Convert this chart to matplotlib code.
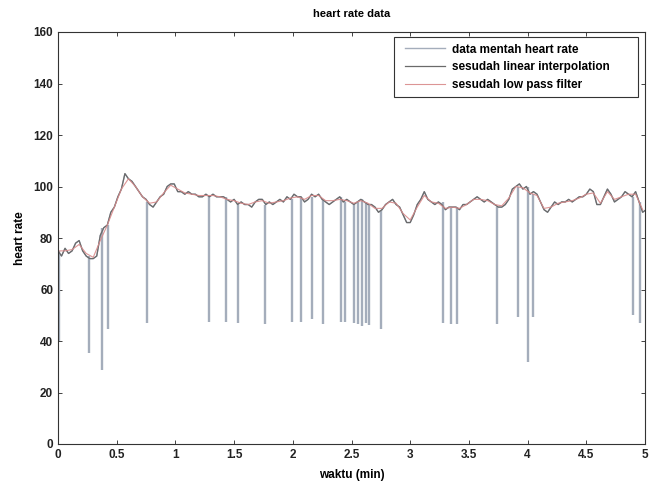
import numpy as np
import matplotlib
matplotlib.use("Agg")
import matplotlib.pyplot as plt
from matplotlib.patches import Rectangle

plt.rcParams['font.family'] = ['Liberation Sans', 'DejaVu Sans']

# ---- data ----
STEP_HR = 0.03      # sampling step of the interpolated series (min)
hr_interp = [75, 73, 76, 74, 75, 78, 79, 75, 73, 72, 72, 73, 81, 84, 85, 90, 92, 96, 99, 105,
             103, 102, 100, 98, 96, 95, 93, 92, 94, 96, 97, 100, 101, 101, 98, 98, 97, 98, 97, 97,
             96, 96, 97, 96, 97, 96, 96, 96, 95, 94, 95, 93, 94, 93, 93, 92, 94, 95, 95, 93,
             94, 93, 94, 95, 94, 96, 95, 97, 96, 96, 94, 95, 97, 96, 97, 95, 94, 93, 94, 95,
             96, 94, 95, 94, 93, 94, 95, 94, 93, 93, 92, 90, 91, 93, 94, 95, 93, 92, 89, 86,
             86, 89, 93, 95, 98, 95, 94, 93, 94, 93, 91, 92, 92, 92, 91, 93, 93, 94, 95, 96,
             95, 94, 95, 94, 93, 92, 92, 93, 95, 99, 100, 101, 99, 100, 97, 98, 97, 94, 91, 90,
             92, 94, 93, 94, 94, 95, 94, 95, 96, 96, 97, 99, 98, 93, 93, 96, 99, 97, 94, 95,
             96, 98, 97, 96, 98, 94, 90, 91]

STEP_LP = 0.06
hr_lowpass = [75, 75, 75.5, 77.5, 74, 72.5, 79, 85, 92, 99, 103, 100, 96, 93.5, 94, 97.5, 100.5,
              99, 97.5, 97, 96.5, 96.5, 96.5, 96, 95, 94.5, 93.5, 93, 94, 94.5, 93.5, 94, 94.5,
              95.5, 96, 95, 96.5, 96.5, 94.5, 94.5, 95, 94.5, 93.5, 94.5, 93.5, 91.5, 91.5, 94,
              93.5, 89.5, 87, 92, 96.5, 94, 93.5, 91.5, 92, 91.5, 93, 95, 95, 94.5, 93, 92.5,
              95.5, 100, 99.5, 97.5, 96.5, 91.5, 92, 93.5, 94, 94.5, 95.5, 97, 97.5, 93.5, 98,
              95, 96, 97, 97, 91]

# raw-data dropouts: time (min), low value, value of the trace around it
drop_t = [0.01, 0.26, 0.375, 0.43, 0.758, 1.282, 1.431, 1.533, 1.767, 1.993, 2.074, 2.164,
          2.257, 2.41, 2.445, 2.52, 2.555, 2.59, 2.624, 2.653, 2.751, 3.279, 3.348, 3.399,
          3.739, 3.918, 4.003, 4.046, 4.898, 4.957]
drop_low = [40, 35.5, 28.7, 44.5, 47, 47.5, 47.5, 47, 46.5, 47.5, 47.5, 48.5,
            46.5, 47.3, 47.3, 47, 46.5, 46, 47, 46.3, 44.5, 47, 46.5, 46.5,
            46.5, 49.5, 31.8, 49.5, 50, 47]
drop_top = [75, 73, 84, 85, 94, 96, 96, 93, 93, 95, 96, 96,
            95, 96, 94, 93, 94, 95, 94, 93, 91, 94, 92, 92,
            92, 100, 100, 97, 96, 94]

xticks = [0, 0.5, 1, 1.5, 2, 2.5, 3, 3.5, 4, 4.5, 5]
xticklabels = ['0', '0.5', '1', '1.5', '2', '2.5', '3', '3.5', '4', '4.5', '5']
yticks = [0, 20, 40, 60, 80, 100, 120, 140, 160]

# ---- plot ----
t_hr = np.arange(len(hr_interp)) * STEP_HR
t_lp = np.arange(len(hr_lowpass)) * STEP_LP

fig = plt.figure(figsize=(6.62, 4.84), dpi=100)
ax = fig.add_axes([58/662, 1-444/484, 587/662, 412/484])

c_raw = '#a4adbb'
c_int = '#6a6a6a'
c_lp = '#d98a8a'

ax.plot(t_hr, hr_interp, color=c_raw, lw=1.0, label='data mentah heart rate')
ax.vlines(drop_t, drop_low, drop_top, color=c_raw, lw=1.7)
ax.plot(t_hr, hr_interp, color=c_int, lw=0.9, label='sesudah linear interpolation')
ax.plot(t_lp, hr_lowpass, color=c_lp, lw=0.8, alpha=0.9, label='sesudah low pass filter')

ax.set_xlim(0, 5)
ax.set_ylim(0, 160)
ax.set_xticks(xticks)
ax.set_xticklabels(xticklabels)
ax.set_yticks(yticks)
ax.tick_params(direction='in', top=True, right=True, labelsize=8.5, length=3, width=0.6,
               colors='#222222')
for lab in ax.get_xticklabels() + ax.get_yticklabels():
    lab.set_fontweight('bold')
for s in ax.spines.values():
    s.set_linewidth(0.8)
    s.set_color('#333333')

ax.set_title('heart rate data', fontsize=8, fontweight='bold', pad=11)
ax.set_xlabel('waktu (min)', fontsize=8.5, fontweight='bold', labelpad=6)
ax.set_ylabel('heart rate', fontsize=8.5, fontweight='bold', labelpad=5)

# legend frame (MATLAB style, wider than the text)
ax.add_patch(Rectangle((0.572, 0.842), 0.416, 0.146, transform=ax.transAxes,
                       facecolor='white', edgecolor='#333333', lw=0.8, zorder=4))
leg = ax.legend(loc='upper left', bbox_to_anchor=(0.591, 0.972), borderaxespad=0,
                borderpad=0, frameon=False,
                handlelength=3.4, handletextpad=0.55, labelspacing=0.5,
                prop={'weight': 'bold', 'size': 8.5})
leg.set_zorder(5)

fig.savefig('out.png', dpi=100)
